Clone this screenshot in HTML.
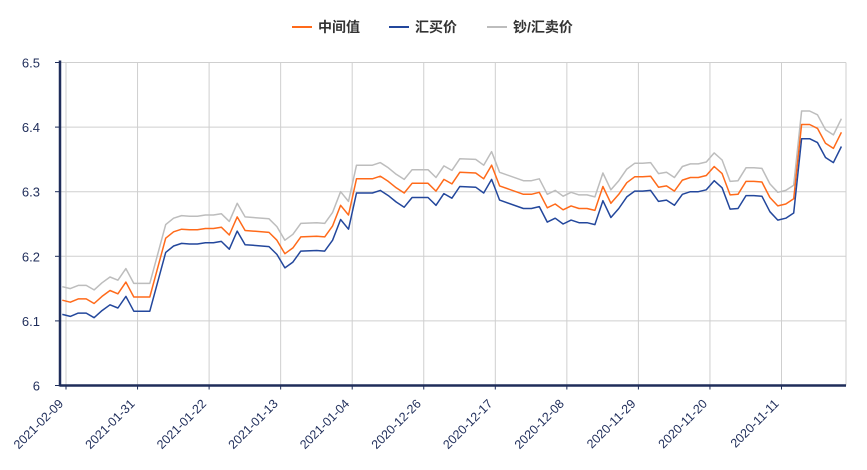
<!DOCTYPE html>
<html><head><meta charset="utf-8"><style>
body{margin:0;background:#fff;}
svg text{font-family:"Liberation Sans","Noto Sans CJK SC",sans-serif;}
</style></head><body>
<svg id="chart" width="867" height="465" xmlns="http://www.w3.org/2000/svg">
<g>
 <g><line x1="292" y1="27" x2="312" y2="27" stroke="#ff6a1a" stroke-width="2"/><text x="318" y="32" font-size="14" font-weight="bold" fill="#333">中间值</text></g>
 <g><line x1="389" y1="27" x2="409" y2="27" stroke="#23479c" stroke-width="2"/><text x="415" y="32" font-size="14" font-weight="bold" fill="#333">汇买价</text></g>
 <g><line x1="487" y1="27" x2="507" y2="27" stroke="#bdbdbd" stroke-width="2"/><text x="513" y="32" font-size="14" font-weight="bold" fill="#333">钞/汇卖价</text></g>
</g>
<g id="grid"></g>
<g id="series"></g>
<g id="axes"></g>
</svg>
<script>
const dayIdx=[0,1,2,3,4,5,6,7,8,9,11,13,14,15,16,17,18,19,20,21,22,23,24,26,27,28,29,30,32,33,34,35,36,37,39,40,41,42,43,44,46,47,48,49,50,52,53,54,55,58,59,60,61,62,63,64,65,66,67,68,69,70,71,72,73,74,75,76,77,78,79,80,81,82,83,84,85,86,87,88,89,90,91,92,93,94,95,96,97,98];
const midVals=[6.132,6.129,6.134,6.134,6.127,6.138,6.147,6.142,6.160,6.137,6.137,6.228,6.238,6.242,6.241,6.241,6.243,6.243,6.245,6.233,6.261,6.240,6.239,6.237,6.225,6.204,6.213,6.230,6.231,6.230,6.247,6.279,6.264,6.320,6.320,6.324,6.316,6.306,6.298,6.313,6.313,6.301,6.319,6.312,6.330,6.329,6.320,6.341,6.309,6.296,6.296,6.299,6.275,6.281,6.272,6.278,6.274,6.274,6.271,6.308,6.282,6.296,6.314,6.323,6.323,6.324,6.307,6.309,6.301,6.318,6.322,6.322,6.325,6.339,6.328,6.295,6.296,6.316,6.316,6.315,6.291,6.278,6.281,6.289,6.404,6.404,6.398,6.375,6.367,6.392];
const buyVals=[6.110,6.107,6.112,6.112,6.105,6.116,6.125,6.120,6.138,6.115,6.115,6.206,6.216,6.220,6.219,6.219,6.221,6.221,6.223,6.211,6.239,6.218,6.217,6.215,6.203,6.182,6.191,6.208,6.209,6.208,6.225,6.257,6.242,6.298,6.298,6.302,6.294,6.284,6.276,6.291,6.291,6.279,6.297,6.290,6.308,6.307,6.298,6.319,6.287,6.274,6.274,6.277,6.253,6.259,6.250,6.256,6.252,6.252,6.249,6.286,6.260,6.274,6.292,6.301,6.301,6.302,6.285,6.287,6.279,6.296,6.300,6.300,6.303,6.317,6.306,6.273,6.274,6.294,6.294,6.293,6.269,6.256,6.259,6.267,6.382,6.382,6.376,6.353,6.345,6.370];
const sellVals=[6.153,6.150,6.155,6.155,6.148,6.159,6.168,6.163,6.181,6.158,6.158,6.249,6.259,6.263,6.262,6.262,6.264,6.264,6.266,6.254,6.282,6.261,6.260,6.258,6.246,6.225,6.234,6.251,6.252,6.251,6.268,6.300,6.285,6.341,6.341,6.345,6.337,6.327,6.319,6.334,6.334,6.322,6.340,6.333,6.351,6.350,6.341,6.362,6.330,6.317,6.317,6.320,6.296,6.302,6.293,6.299,6.295,6.295,6.292,6.329,6.303,6.317,6.335,6.344,6.344,6.345,6.328,6.330,6.322,6.339,6.343,6.343,6.346,6.360,6.349,6.316,6.317,6.337,6.337,6.336,6.312,6.299,6.302,6.310,6.425,6.425,6.419,6.396,6.388,6.413];
const yTicks=[6,6.1,6.2,6.3,6.4,6.5];
const yTickLabels=["6","6.1","6.2","6.3","6.4","6.5"];
const xTickIdx=[0,9,18,27,36,45,54,63,72,81,90];
const xTickLabels=["2021-02-09","2021-01-31","2021-01-22","2021-01-13","2021-01-04","2020-12-26","2020-12-17","2020-12-08","2020-11-29","2020-11-20","2020-11-11"];

const NS="http://www.w3.org/2000/svg";
const X0=62.3,STEP=7.95,LEFT=60,RIGHT=846,Y0=385.5,YS=646;
function xs(i){return X0+i*STEP;}
function ys(v){return Y0-(v-6)*YS;}
function mk(tag,attrs,parent){const e=document.createElementNS(NS,tag);for(const k in attrs)e.setAttribute(k,attrs[k]);parent.appendChild(e);return e;}
const grid=document.getElementById('grid'),series=document.getElementById('series'),axes=document.getElementById('axes');
yTicks.forEach((t,k)=>{
 const l=mk('line',{x1:LEFT,x2:RIGHT,y1:ys(t),y2:ys(t),stroke:'#cfcfcf','stroke-width':1},grid);
 
 
 const tx=mk('text',{x:40,y:ys(t)+5,'text-anchor':'end','font-size':13,fill:'#1f2d5a'},axes);
 tx.textContent=yTickLabels[k];
 
 
 const tk=mk('line',{x1:LEFT-5,x2:LEFT,y1:ys(t),y2:ys(t),stroke:'#1f2d5a','stroke-width':1},axes);
 
 
});
xTickIdx.forEach((i,k)=>{
 const x=xs(i)+3.7;
 const l=mk('line',{x1:x,x2:x,y1:ys(6.5),y2:ys(6),stroke:'#cfcfcf','stroke-width':1},grid);
 
 
 const tk=mk('line',{x1:x,x2:x,y1:ys(6),y2:ys(6)+4,stroke:'#1f2d5a','stroke-width':1},axes);
 
 
 const lx=x-2,ly=ys(6)+19;
 const tx=mk('text',{x:lx,y:ly,'text-anchor':'end','font-size':12.5,fill:'#1f2d5a',transform:`rotate(-45 ${lx} ${ly})`},axes);
 tx.textContent=xTickLabels[k];
 
 
});
const rl=mk('line',{x1:RIGHT,x2:RIGHT,y1:ys(6.5),y2:ys(6),stroke:'#cfcfcf','stroke-width':1},grid);


function drawLine(vals,color,name){
 const d=vals.map((v,k)=>(k?'L':'M')+xs(dayIdx[k]).toFixed(1)+' '+ys(v).toFixed(1)).join(' ');
 const p=mk('path',{d:d,fill:'none',stroke:color,'stroke-width':1.5,'stroke-linejoin':'round'},series);
 
 
}
drawLine(sellVals,'#bdbdbd','line-sell-price');
drawLine(midVals,'#ff6a1a','line-mid-price');
drawLine(buyVals,'#23479c','line-buy-price');
const ya=mk('line',{x1:LEFT,x2:LEFT,y1:ys(6.5)-2,y2:ys(6)+1,stroke:'#1f2d5a','stroke-width':2.5},axes);


const xa=mk('line',{x1:LEFT,x2:RIGHT,y1:ys(6),y2:ys(6),stroke:'#1f2d5a','stroke-width':2.5},axes);


</script>
</body></html>
